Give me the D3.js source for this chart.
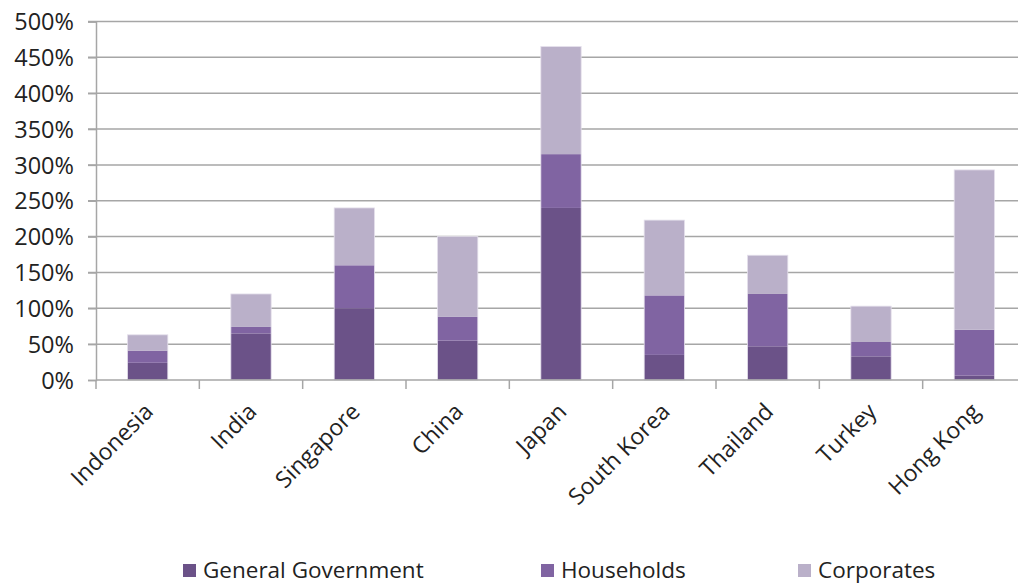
<!DOCTYPE html>
<html>
<head>
<meta charset="utf-8">
<script src="https://cdn.jsdelivr.net/npm/d3@7"></script>
<style>
  body { margin: 0; background: #fff; }
  svg text { font-family: "Open Sans", sans-serif; fill: #222; }
</style>
</head>
<body>
<svg width="1018" height="584"></svg>
<script>
var countries = ["Indonesia", "India", "Singapore", "China", "Japan", "South Korea", "Thailand", "Turkey", "Hong Kong"];
var government = [24, 65, 100, 55, 240, 35, 47, 33, 6];
var households = [17, 9, 60, 33, 75, 83, 73, 20, 64];
var corporates = [22, 46, 80, 112, 150, 105, 54, 50, 223];
var seriesNames = ["General Government", "Households", "Corporates"];
var yTicks = [0, 50, 100, 150, 200, 250, 300, 350, 400, 450, 500];

var colors = ["#6b5288", "#8064a2", "#bab0c9"];

var svg = d3.select("svg"),
    width = +svg.attr("width"),
    height = +svg.attr("height");

var plotLeft = 96, plotTop = 21.5, plotBottom = 380, plotRight = 1026;

var table = countries.map(function (c, i) {
    return { country: c, g: government[i], h: households[i], c: corporates[i] };
});

var stack = d3.stack().keys(["g", "h", "c"]);
var layers = stack(table);

var x = d3.scaleBand().domain(countries).range([plotLeft, plotRight]).paddingInner(0.61).paddingOuter(0.305);
var xTicks = d3.scaleBand().domain(countries).range([plotLeft, plotRight]);
var y = d3.scaleLinear().domain([0, 500]).range([plotBottom, plotTop]);

//gridlines
svg.append("g")
    .selectAll("line")
    .data(yTicks.slice(1))
    .enter().append("line")
    .attr("x1", plotLeft - 8).attr("x2", width)
    .attr("y1", function (d) { return y(d); })
    .attr("y2", function (d) { return y(d); })
    .attr("stroke", "#a6a6a6")
    .attr("stroke-width", 1.5);

//y axis
var yAxis = svg.append("g")
    .attr("transform", "translate(" + plotLeft + ",0)")
    .call(d3.axisLeft(y).tickValues(yTicks).tickSize(8).tickPadding(14)
        .tickFormat(function (d) { return d + "%"; }));
yAxis.select(".domain").attr("stroke", "#a6a6a6").attr("stroke-width", 1.5);
yAxis.selectAll(".tick line").attr("stroke", "#a6a6a6").attr("stroke-width", 1.5);
yAxis.selectAll(".tick text").style("font-size", "23.5px").attr("dy", "0.35em");

//bars
var barGroups = svg.append("g")
    .selectAll("g")
    .data(layers)
    .enter().append("g")
    .attr("fill", function (d, i) { return colors[i]; });

barGroups.selectAll("rect")
    .data(function (d) { return d; })
    .enter().append("rect")
    .attr("x", function (d) { return x(d.data.country); })
    .attr("width", x.bandwidth())
    .attr("y", function (d) { return y(d[1]); })
    .attr("height", function (d) { return y(d[0]) - y(d[1]); });

//light outline round each whole bar
svg.append("g")
    .selectAll("rect")
    .data(layers[layers.length - 1])
    .enter().append("rect")
    .attr("x", function (d) { return x(d.data.country); })
    .attr("width", x.bandwidth())
    .attr("y", function (d) { return y(d[1]); })
    .attr("height", function (d) { return y(0) - y(d[1]); })
    .attr("fill", "none")
    .attr("stroke", "#e4dfeb")
    .attr("stroke-width", 0.8);

//x axis
var xAxis = svg.append("g")
    .attr("transform", "translate(0," + plotBottom + ")");
xAxis.append("line")
    .attr("x1", plotLeft).attr("x2", width)
    .attr("stroke", "#a6a6a6").attr("stroke-width", 1.5);
xAxis.selectAll(".xt")
    .data(countries)
    .enter().append("line")
    .attr("class", "xt")
    .attr("x1", function (d) { return xTicks(d); })
    .attr("x2", function (d) { return xTicks(d); })
    .attr("y1", 0).attr("y2", 9)
    .attr("stroke", "#a6a6a6").attr("stroke-width", 1.5);

svg.append("g")
    .selectAll("text")
    .data(countries)
    .enter().append("text")
    .attr("text-anchor", "end")
    .attr("transform", function (d) {
        return "translate(" + (xTicks(d) + xTicks.bandwidth() / 2 + 7) + "," + (plotBottom + 33) + ") rotate(-45)";
    })
    .style("font-size", "23px")
    .text(function (d) { return d; });

//legend
var legendX = [183, 541, 798];
var legend = svg.append("g")
    .selectAll("g")
    .data(seriesNames)
    .enter().append("g")
    .attr("transform", function (d, i) { return "translate(" + legendX[i] + ",564)"; });
legend.append("rect")
    .attr("width", 13).attr("height", 13)
    .attr("fill", function (d, i) { return colors[i]; });
legend.append("text")
    .attr("x", 20).attr("y", 14)
    .style("font-size", "22.5px")
    .text(function (d) { return d; });
</script>
</body>
</html>
